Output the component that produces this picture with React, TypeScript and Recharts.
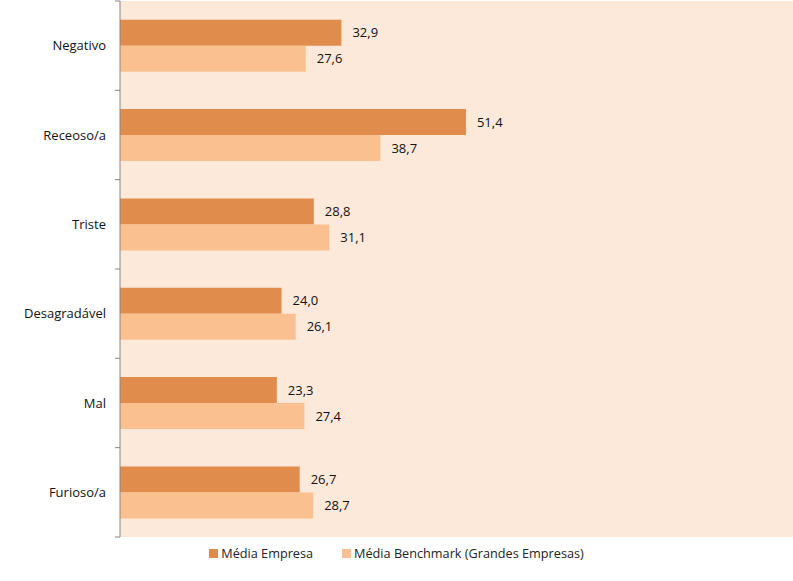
import React from 'react';
import { BarChart, Bar, XAxis, YAxis, CartesianGrid, LabelList } from 'recharts';

const categories = ['Negativo', 'Receoso/a', 'Triste', 'Desagradável', 'Mal', 'Furioso/a'];
const empresa = [32.9, 51.4, 28.8, 24.0, 23.3, 26.7];
const benchmark = [27.6, 38.7, 31.1, 26.1, 27.4, 28.7];

const data = categories.map((name, i) => ({ name, empresa: empresa[i], benchmark: benchmark[i] }));

const DARK = '#E08C4C';
const LIGHT = '#FAC090';
const AXIS = '#868686';
const FONT = '"Open Sans", "Noto Sans", sans-serif';
const TICK_SIZE = 6;
const TICK_MARGIN = 8;

const fmt = (v: any) => Number(v).toFixed(1).replace('.', ',');

// category label plus tick marks on the band edges (Excel style)
const CategoryTick = (props: any) => {
  const { x, y, payload, index } = props;
  const half = payload.offset || 0;
  const axisX = x + TICK_SIZE + TICK_MARGIN;
  return (
    <g>
      {index === 0 && <line x1={axisX - 5} x2={axisX} y1={y - half} y2={y - half} stroke={AXIS} />}
      <line x1={axisX - 5} x2={axisX} y1={y + half} y2={y + half} stroke={AXIS} />
      <text x={x} y={y} dy="0.35em" textAnchor="end" fill="#111" fontSize={13} fontFamily={FONT}>
        {payload.value}
      </text>
    </g>
  );
};

const LegendBox = () => (
  <div
    style={{
      position: 'absolute', left: 0, top: 544, width: 793,
      display: 'flex', justifyContent: 'center', fontFamily: FONT, fontSize: 12.7, color: '#222',
    }}
  >
    <span style={{ display: 'flex', alignItems: 'center', marginRight: 29 }}>
      <span style={{ width: 9, height: 9, background: DARK, marginRight: 3, display: 'inline-block' }} />
      Média Empresa
    </span>
    <span style={{ display: 'flex', alignItems: 'center' }}>
      <span style={{ width: 9, height: 9, background: LIGHT, marginRight: 3, display: 'inline-block' }} />
      Média Benchmark (Grandes Empresas)
    </span>
  </div>
);

export default function App() {
  return (
    <div style={{ position: 'absolute', left: 0, top: 0, width: 793, height: 581, background: '#fff' }}>
      <BarChart
        width={793}
        height={581}
        data={data}
        layout="vertical"
        margin={{ top: 1, right: 0, left: 0, bottom: 44 }}
        barCategoryGap="21%"
        barGap={0}
      >
        <CartesianGrid horizontal={false} vertical={false} fill="#FDE9DA" stroke="none" />
        <XAxis type="number" domain={[0, 100]} hide />
        <YAxis
          type="category"
          dataKey="name"
          width={120}
          axisLine={{ stroke: AXIS }}
          tickLine={false}
          tickSize={TICK_SIZE}
          tickMargin={TICK_MARGIN}
          tick={<CategoryTick />}
        />
        <Bar dataKey="empresa" name="Média Empresa" fill={DARK} isAnimationActive={false}>
          <LabelList dataKey="empresa" position="right" offset={11} formatter={fmt} style={{ fill: '#111', fontSize: 13, fontFamily: FONT }} />
        </Bar>
        <Bar dataKey="benchmark" name="Média Benchmark (Grandes Empresas)" fill={LIGHT} isAnimationActive={false}>
          <LabelList dataKey="benchmark" position="right" offset={11} formatter={fmt} style={{ fill: '#111', fontSize: 13, fontFamily: FONT }} />
        </Bar>
      </BarChart>
      <LegendBox />
    </div>
  );
}
